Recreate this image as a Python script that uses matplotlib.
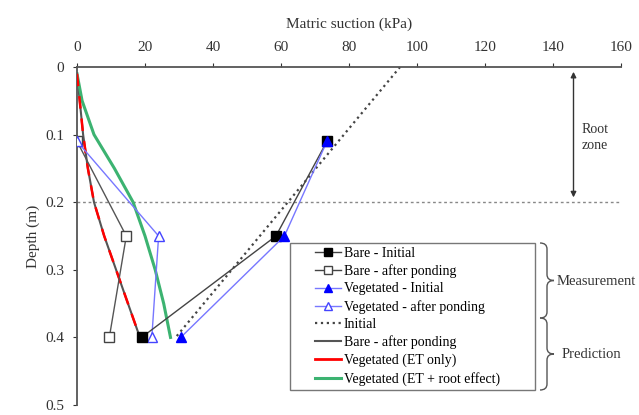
import numpy as np
import matplotlib.pyplot as plt
from matplotlib.path import Path
from matplotlib.patches import PathPatch, Rectangle
from matplotlib.lines import Line2D

plt.rcParams["font.family"] = ["Liberation Serif", "DejaVu Serif"]

# measured profiles (depth in m, suction in kPa)
meas_depth = [0.11, 0.25, 0.40]
bare_initial = [73.5, 58.5, 19.0]
bare_ponding = [0.0, 14.5, 9.5]
veg_initial = [73.5, 61.0, 30.5]
veg_ponding = [0.0, 24.0, 22.0]

# predicted profiles
initial_depth = [0.0, 0.40]
initial_pred = [95.0, 29.0]

pred_depth = [0.01, 0.05, 0.10, 0.15, 0.20, 0.25, 0.30, 0.35, 0.40]
bare_pond_pred = [0.0, 0.8, 1.8, 3.2, 5.0, 8.0, 11.5, 15.0, 18.5]
veg_et_pred = [0.0, 0.8, 1.8, 3.2, 5.0, 8.0, 11.5, 15.0, 18.5]
veg_root_pred = [0.0, 1.5, 5.0, 11.0, 16.5, 20.0, 23.0, 25.5, 27.5]

fig = plt.figure(figsize=(6.39, 4.15), dpi=100)
ax = fig.add_axes([0.1205, 0.024, 0.8515, 0.8146])

ax.plot(bare_pond_pred, pred_depth, color="#555555", lw=1.5, zorder=2)
ax.plot(veg_et_pred, pred_depth, color="red", lw=1.8, dashes=(5, 4), zorder=3)
ax.plot(veg_root_pred, pred_depth, color="#3cb371", lw=2.2, zorder=2)
ax.plot(initial_pred, initial_depth, color="#444444", ls=":", lw=1.6, zorder=2)

ax.plot(bare_ponding, meas_depth, color="#555555", lw=1, marker="s", ms=7.5,
        mfc="white", mec="#444444", zorder=4)
ax.plot(veg_ponding, meas_depth, color="#7777ff", lw=1, marker="^", ms=7.5,
        mfc="white", mec="#4444ff", zorder=4)
ax.plot(bare_initial, meas_depth, color="#444444", lw=1, marker="s", ms=7.5,
        mfc="black", mec="black", zorder=5)
ax.plot(veg_initial, meas_depth, color="#7777ff", lw=1, marker="^", ms=7.5,
        mfc="blue", mec="blue", zorder=6)

# root zone line and arrow
ax.axhline(0.2, color="#888888", ls=(0, (2, 2)), lw=1, zorder=1)
ax.annotate("", xy=(146, 0.003), xytext=(146, 0.197),
            arrowprops=dict(arrowstyle="<|-|>", color="#333333", lw=1,
                            mutation_scale=8))
ax.text(148.5, 0.105, "Root\nzone", fontsize=10, va="center", ha="left",
        color="#333333", linespacing=1.3)

ax.set_xlim(0, 160)
ax.set_ylim(0.5, 0)
ax.xaxis.tick_top()
ax.xaxis.set_label_position("top")
ax.set_xticks(np.arange(0, 161, 20))
ax.set_yticks([0, 0.1, 0.2, 0.3, 0.4, 0.5])
ax.set_yticklabels(["0", "0.1", "0.2", "0.3", "0.4", "0.5"])
ax.tick_params(direction="out", length=3, labelsize=11, colors="#333333",
               pad=6)
ax.set_xlabel("Matric suction (kPa)", fontsize=11, labelpad=10,
              color="#333333")
ax.set_ylabel("Depth (m)", fontsize=11, color="#333333")
for s in ["right", "bottom"]:
    ax.spines[s].set_visible(False)
for s in ["left", "top"]:
    ax.spines[s].set_color("#555555")
    ax.spines[s].set_linewidth(1.3)

handles = [
    Line2D([], [], color="#444444", lw=1, marker="s", ms=6, mfc="black", mec="black"),
    Line2D([], [], color="#444444", lw=1, marker="s", ms=6, mfc="white", mec="#444444"),
    Line2D([], [], color="#7777ff", lw=1, marker="^", ms=6, mfc="blue", mec="blue"),
    Line2D([], [], color="#7777ff", lw=1, marker="^", ms=6, mfc="white", mec="#4444ff"),
    Line2D([], [], color="#444444", ls=":", lw=1.6),
    Line2D([], [], color="#555555", lw=1.5),
    Line2D([], [], color="red", lw=2),
    Line2D([], [], color="#3cb371", lw=2.2),
]
labels = ["Bare - Initial", "Bare - after ponding", "Vegetated - Initial",
          "Vegetated - after ponding", "Initial", "Bare - after ponding",
          "Vegetated (ET only)", "Vegetated (ET + root effect)"]

# legend frame drawn separately so it can be wider than the entries
frame = Rectangle((290 / 639, (415 - 390) / 415), 245 / 639, 147 / 415,
                  transform=fig.transFigure, fill=True, fc="white",
                  ec="#777777", lw=1, zorder=7, clip_on=False)
ax.add_patch(frame)
leg = ax.legend(handles, labels, loc="upper left",
                bbox_to_anchor=(312 / 639, (415 - 244) / 415),
                bbox_transform=fig.transFigure, fontsize=10, frameon=False,
                handlelength=1.9, handletextpad=0.2, labelspacing=0.32,
                borderpad=0.2, borderaxespad=0)
leg.set_zorder(8)


def brace(y_top, y_bot, x0, w):
    # curly brace in pixel coordinates (y down), drawn on figure
    def f(px, py):
        return (px / 639, (415 - py) / 415)
    ym = (y_top + y_bot) / 2
    codes = [Path.MOVETO, Path.CURVE3, Path.CURVE3, Path.LINETO,
             Path.CURVE3, Path.CURVE3, Path.MOVETO, Path.CURVE3, Path.CURVE3,
             Path.LINETO, Path.CURVE3, Path.CURVE3]
    verts = [f(x0, y_top), f(x0 + w / 2, y_top), f(x0 + w / 2, y_top + 6),
             f(x0 + w / 2, ym - 6), f(x0 + w / 2, ym), f(x0 + w, ym),
             f(x0 + w, ym), f(x0 + w / 2, ym), f(x0 + w / 2, ym + 6),
             f(x0 + w / 2, y_bot - 6), f(x0 + w / 2, y_bot), f(x0, y_bot)]
    fig.patches.append(PathPatch(Path(verts, codes), fill=False,
                                 ec="#555555", lw=1,
                                 transform=fig.transFigure))


brace(243, 318, 540, 14)
brace(318, 390, 540, 14)
fig.text(557 / 639, (415 - 281) / 415, "Measurement", fontsize=10.5,
         va="center", ha="left", color="#333333")
fig.text(562 / 639, (415 - 354) / 415, "Prediction", fontsize=10.5,
         va="center", ha="left", color="#333333")

fig.savefig("out.png", dpi=100)
